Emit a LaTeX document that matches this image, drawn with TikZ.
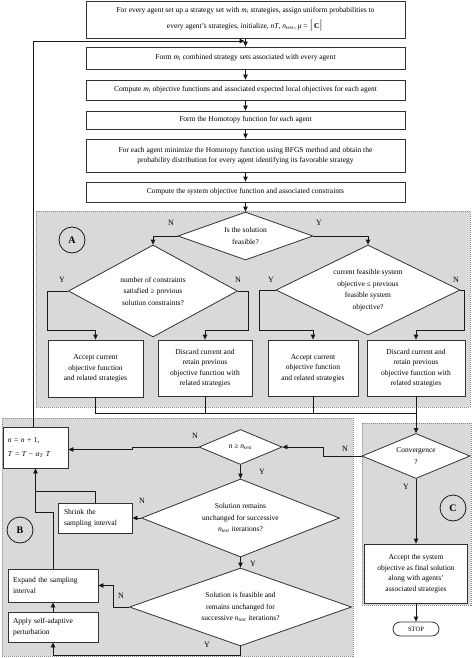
\documentclass[tikz,border=0pt]{standalone}
\usepackage{fontspec}
\setmainfont{Liberation Serif}
\usetikzlibrary{shapes.geometric,shapes.misc,arrows.meta}
\definecolor{regfill}{RGB}{217,217,217}
\definecolor{regdraw}{RGB}{140,140,140}
\definecolor{linec}{RGB}{25,25,25}
\definecolor{boxc}{RGB}{50,50,50}
\newcommand{\mi}{\textit{m}\textsubscript{\textit{i}}}
\newcommand{\ntest}{\textit{n}\textsubscript{\textit{test}}}
\begin{document}
\begin{tikzpicture}[x=1pt,y=-1pt,
  font=\fontsize{7.5}{10.5}\selectfont,
  box/.style={draw=boxc, fill=white, line width=0.8pt, align=center, inner sep=1pt},
  lbox/.style={draw=boxc, fill=white, line width=0.8pt, align=left, inner sep=4pt},
  dia/.style={diamond, draw=boxc, fill=white, line width=0.8pt, align=center, inner sep=0pt, font=\fontsize{7.5}{11.5}\selectfont},
  region/.style={fill=regfill, draw=regdraw, dash pattern=on 1pt off 1pt, line width=0.6pt},
  arr/.style={-{Triangle[length=5pt,width=4.5pt]}, line width=0.8pt, draw=linec},
  ln/.style={line width=0.8pt, draw=linec},
  lab/.style={font=\fontsize{8}{9}\selectfont, inner sep=0pt},
  circ/.style={circle, draw=linec, line width=0.8pt, minimum size=26pt, inner sep=0pt, font=\bfseries\fontsize{10}{10}\selectfont}
]
\useasboundingbox (0,0) rectangle (474,658);

% regions
\draw[region] (36,211) rectangle (470,407);
\draw[region] (2,418) rectangle (353,656);
\draw[region] (362,423) rectangle (471,605);

% top chain
\node[box, minimum width=319pt, minimum height=37pt, font=\fontsize{7.5}{16}\selectfont] (b1) at (245.5,19.5)
  {For every agent set up a strategy set with \mi{} strategies, assign uniform probabilities to\\
   every agent's strategies, initialize, \textit{nT}, \ntest, \textit{μ} = {\large$\left|\right.$}\textbf{C}{\large$\left|\right.$}};
\node[box, minimum width=319pt, minimum height=22pt] (b2) at (245.5,58)
  {Form \mi{} combined strategy sets associated with every agent};
\node[box, minimum width=319pt, minimum height=20pt] (b3) at (245.5,90)
  {Compute \mi{} objective functions and associated expected local objectives for each agent};
\node[box, minimum width=319pt, minimum height=18pt] (b4) at (245.5,120)
  {Form the Homotopy function for each agent};
\node[box, minimum width=319pt, minimum height=33pt] (b5) at (245.5,155.5)
  {For each agent minimize the Homotopy function using BFGS method and obtain the\\
   probability distribution for every agent identifying its favorable strategy};
\node[box, minimum width=319pt, minimum height=20pt] (b6) at (245.5,192)
  {Compute the system objective function and associated constraints};

\draw[arr] (b1) -- (b2);
\draw[arr] (b2) -- (b3);
\draw[arr] (b3) -- (b4);
\draw[arr] (b4) -- (b5);
\draw[arr] (b5) -- (b6);

% region A
\node[dia, minimum width=135pt, minimum height=48pt, aspect=2.8] (feas) at (245.5,236)
  {Is the solution\\feasible?};
\node[dia, minimum width=169pt, minimum height=92pt, aspect=1.84] (dl) at (153,291)
  {number of constraints\\satisfied ≥ previous\\solution constraints?};
\node[dia, minimum width=184pt, minimum height=90pt, aspect=2.04] (dr) at (368,290)
  {current feasible system\\objective ≤ previous\\feasible system\\objective?};
\node[box, minimum width=95pt, minimum height=57pt] (a1) at (95.5,368.5)
  {Accept current\\objective function\\and related strategies};
\node[box, minimum width=94pt, minimum height=56pt] (a2) at (205,368)
  {Discard current and\\retain previous\\objective function with\\related strategies};
\node[box, minimum width=90pt, minimum height=56pt] (a3) at (313,368)
  {Accept current\\objective function\\and related strategies};
\node[box, minimum width=98pt, minimum height=56pt] (a4) at (416,368)
  {Discard current and\\retain previous\\objective function with\\related strategies};
\node[circ] (cA) at (72,240) {A};

\draw[arr] (b6) -- (feas);
\draw[arr] (feas.west) -| (dl.north);
\draw[arr] (feas.east) -| (dr.north);
\draw[arr] (dl.west) -| (47,330) -| (a1.north);
\draw[arr] (dl.east) -| (248,330) -| (a2.north);
\draw[arr] (dr.west) -| (259,330) -| (a3.north);
\draw[arr] (dr.east) -| (464,330) -| (a4.north);

\node[lab] (lN1) at (171,223) {N};
\node[lab] (lY1) at (319,223) {Y};
\node[lab] (lY2) at (62,280) {Y};
\node[lab] (lN2) at (238,280) {N};
\node[lab] (lY3) at (271,280) {Y};
\node[lab] (lN3) at (456,280) {N};

% region C
\node[dia, minimum width=108pt, minimum height=45pt, aspect=2.4] (conv) at (416,456)
  {Convergence\\?};
\node[box, minimum width=103pt, minimum height=59pt] (acc) at (416,573.5)
  {Accept the system\\objective as final solution\\along with agents'\\associated strategies};
\node[draw=boxc, fill=white, line width=0.8pt, rounded rectangle, minimum width=48pt, minimum height=14pt, inner sep=1pt, font=\fontsize{6.5}{7}\selectfont] (stop) at (416,629) {STOP};
\node[circ] (cC) at (453,508) {C};

\draw[ln] (a1.south) |- (a4.south |- 0,413);
\draw[ln] (a2.south) -- (a2.south |- 0,413);
\draw[ln] (a3.south) -- (a3.south |- 0,413);
\draw[arr] (a4.south) -- (conv.north);
\draw[arr] (conv.south) -- (acc.north);
\draw[arr] (acc.south) -- (stop.north);
\node[lab] (lYc) at (406,487) {Y};

% region B
\node[dia, minimum width=83pt, minimum height=35pt, aspect=2.4] (nt) at (240.5,447)
  {\textit{n} ≥ \ntest};
\node[dia, minimum width=198pt, minimum height=78pt, aspect=2.54] (d2) at (240.5,518)
  {Solution remains\\unchanged for successive\\\ntest{} iterations?};
\node[dia, minimum width=222pt, minimum height=78pt, aspect=2.85] (d3) at (240.5,607)
  {Solution is feasible and\\remains unchanged for\\successive \ntest{} iterations?};
\node[lbox, minimum width=65pt, minimum height=41pt, text width=55pt, font=\fontsize{7.5}{14}\selectfont] (nb) at (35.5,447.5)
  {\textit{n} = \textit{n} + 1,\\\textit{T} = \textit{T} − \textit{α}\textsubscript{\textit{T}} \textit{T}};
\node[lbox, minimum width=74pt, minimum height=30pt, text width=62pt] (sh) at (95,518)
  {Shrink the\\sampling interval};
\node[lbox, minimum width=90pt, minimum height=33pt, text width=80pt] (ex) at (53,585.5)
  {Expand the sampling\\interval};
\node[lbox, minimum width=90pt, minimum height=30pt, text width=80pt] (ap) at (53,627)
  {Apply self-adaptive\\perturbation};
\node[circ] (cB) at (20,530) {B};

\coordinate (fbx) at (33,41);
\draw[arr, shorten >=1pt] (nb.north -| fbx) -- (fbx) -- (fbx -| b2.north);
\draw[arr] (conv.west) -| (323,447) -- (nt.east);
\draw[arr] (nt.west) -| (132,449.5) -- (nb.east |- 0,449.5);
\draw[arr] (nt.south) -- (d2.north);
\draw[arr] (d2.south) -- (d3.north);
\draw[arr] (d2.west) -- (sh.east);
\draw[arr] (sh.north) |- (35.5,491) -- (nb.south);
\draw[ln] (ex.north) |- (35.5,512) -- (35.5,490);
\draw[arr] (ap.north) -- (ex.south);
\draw[arr] (d3.west) -| (113,585.5) -- (ex.east);
\draw[arr] (d3.south) |- (ap.south |- 0,655) -- (ap.south);

\node[lab] (lN4) at (195,436) {N};
\node[lab] (lN5) at (345,449) {N};
\node[lab] (lY4) at (262,472) {Y};
\node[lab] (lN6) at (142,501) {N};
\node[lab] (lY5) at (253,564) {Y};
\node[lab] (lN7) at (121,596) {N};
\node[lab] (lY6) at (207,645) {Y};
\end{tikzpicture}
\end{document}
